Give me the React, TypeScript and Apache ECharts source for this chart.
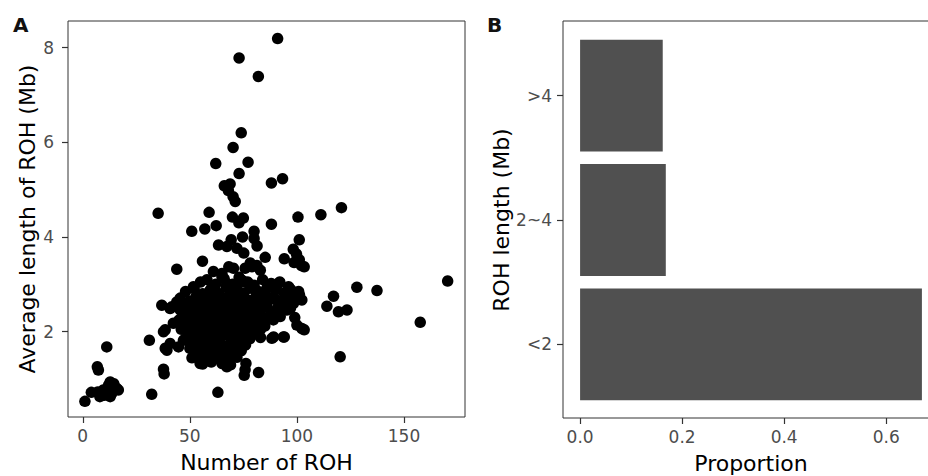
import React, { useEffect, useRef } from 'react';
import * as echarts from 'echarts';

// Panel A: number of ROH vs average ROH length (Mb)
const rohLowCluster: [number, number][] = [
  [1, 0.53], [4, 0.72], [7, 0.73], [8, 0.63], [10, 0.66], [9.6, 0.77], [12, 0.87], [12.8, 0.94],
  [14.3, 0.8], [15.9, 0.8], [12.8, 0.63], [14.5, 0.9], [16.6, 0.77], [11, 0.72], [13.5, 0.7],
  [6.8, 1.26], [7.3, 1.19], [11.2, 1.68],
];
const rohMidLeft: [number, number][] = [
  [31.1, 1.82], [32.2, 0.68], [37.7, 1.21], [38, 1.11], [37.7, 2.0], [38.5, 1.65], [39.3, 1.61],
  [36.9, 2.56], [40.8, 2.49], [41.6, 2.53], [43.9, 2.63], [45.5, 2.71], [35.2, 4.5], [43.9, 3.32],
  [55.9, 3.49], [51.7, 2.95], [38.5, 2.04], [42.3, 2.18], [40.8, 1.75], [44.7, 1.68], [47, 1.82],
  [45.5, 2.46],
];
const rohUpper: [number, number][] = [
  [91, 8.19], [73, 7.78], [82, 7.39], [74, 6.2], [70.2, 5.89], [77.2, 5.58], [62.1, 5.55], [73, 5.34],
  [93.3, 5.23], [88.1, 5.14], [66.1, 5.08], [68.8, 5.12], [68, 4.98], [70.2, 4.85], [71.2, 4.75],
  [59, 4.52], [111.2, 4.47], [120.8, 4.62], [100.5, 4.42], [69.9, 4.42], [75, 4.4], [72.9, 4.3],
  [62.3, 4.24], [57, 4.17], [50.9, 4.12], [88.1, 4.27], [80, 4.12], [74.6, 4.0], [80, 3.97],
  [101.1, 3.94], [69.3, 3.94], [67.3, 3.8], [72, 3.76], [63.4, 3.83], [81.4, 3.81], [75.2, 3.66],
  [98.3, 3.74], [99.8, 3.64], [101.1, 3.52], [102.1, 3.4], [103.4, 3.37], [98.7, 3.46], [94.1, 3.54],
  [85.2, 3.57], [61, 3.27], [68.2, 3.37], [70.4, 3.34], [75.8, 3.34], [79, 3.37], [81.3, 3.4],
  [82.9, 3.3], [65, 3.16], [75, 3.06], [65, 3.23], [78.2, 3.45], [74.3, 3.09], [67.3, 3.02],
  [59.5, 2.88], [86, 2.92], [91.4, 3.02], [96.1, 2.95], [96.9, 2.78], [100.8, 2.85],
];
const rohRight: [number, number][] = [
  [128, 2.94], [137.4, 2.87], [170.4, 3.07], [117.1, 2.75], [114, 2.54], [119.4, 2.42], [123.4, 2.46],
  [157.6, 2.2], [120.2, 1.47], [101.2, 2.78], [102.3, 2.67], [98.4, 2.6], [100, 2.14], [102.3, 2.07],
  [103.4, 2.04], [94.1, 1.89], [88.3, 1.86], [93.7, 1.89], [89.1, 1.89], [92.2, 2.32], [95.3, 2.46],
  [99, 2.3], [97, 2.5],
];
const rohBottom: [number, number][] = [
  [76.2, 1.33], [75.4, 1.08], [82.1, 1.14], [63.1, 0.72], [54.8, 1.33], [67.3, 1.26], [52.5, 1.47],
  [75.8, 1.2],
];
const rohDense: [number, number][] = [
  [55, 3.05], [58, 3.1], [62, 3.0], [66, 3.12], [70, 3.0], [73, 3.15], [77, 3.05], [80, 2.98], [84, 3.1], [88, 3.02], [92, 3.05],
  [48, 2.85], [52, 2.92], [56, 2.8], [60, 2.9], [63, 2.82], [67, 2.95], [69, 2.85], [72, 2.9], [75, 2.82], [78, 2.92], [82, 2.85], [85, 2.8], [90, 2.88], [94, 2.82], [97, 2.9],
  [50, 2.65], [53, 2.75], [55, 2.62], [58, 2.72], [61, 2.66], [64, 2.78], [66, 2.62], [68, 2.72], [70, 2.65], [72, 2.75], [74, 2.62], [76, 2.7], [79, 2.66], [81, 2.76], [84, 2.64], [87, 2.72], [90, 2.68], [93, 2.62], [96, 2.7],
  [47, 2.55], [50, 2.42], [52, 2.52], [54, 2.58], [57, 2.45], [59, 2.55], [61, 2.42], [63, 2.5], [65, 2.58], [67, 2.45], [69, 2.52], [71, 2.42], [73, 2.55], [75, 2.48], [77, 2.58], [79, 2.44], [81, 2.52], [83, 2.45], [86, 2.55], [88, 2.42], [91, 2.5], [94, 2.58],
  [45, 2.25], [48, 2.35], [51, 2.22], [53, 2.32], [55, 2.38], [57, 2.25], [59, 2.34], [61, 2.22], [62, 2.38], [64, 2.28], [66, 2.35], [68, 2.22], [69, 2.32], [71, 2.38], [72, 2.26], [74, 2.34], [76, 2.22], [78, 2.36], [80, 2.28], [82, 2.35], [84, 2.22], [87, 2.32], [89, 2.25],
  [46, 2.05], [49, 2.15], [52, 2.02], [54, 2.12], [56, 2.18], [58, 2.05], [60, 2.14], [62, 2.02], [63, 2.18], [65, 2.08], [67, 2.15], [68, 2.02], [70, 2.12], [71, 2.18], [73, 2.05], [75, 2.15], [77, 2.02], [79, 2.12], [81, 2.18], [83, 2.05], [85, 2.12],
  [48, 1.85], [50, 1.95], [53, 1.82], [55, 1.92], [57, 1.98], [59, 1.85], [61, 1.95], [63, 1.82], [65, 1.92], [67, 1.98], [69, 1.86], [71, 1.95], [73, 1.84], [75, 1.92], [78, 1.85], [80, 1.95], [83, 1.88],
  [50, 1.65], [52, 1.75], [55, 1.62], [57, 1.72], [59, 1.66], [61, 1.78], [63, 1.64], [65, 1.72], [67, 1.62], [69, 1.75], [72, 1.68], [74, 1.6], [76, 1.72],
  [51, 1.45], [54, 1.55], [56, 1.42], [58, 1.52], [60, 1.45], [62, 1.56], [64, 1.42], [66, 1.5], [68, 1.44], [70, 1.55], [72, 1.46],
  [56, 1.32], [60, 1.36], [65, 1.33], [69, 1.3],
];
const countTicks = [0, 50, 100, 150];
const lengthTicks = [2, 4, 6, 8];

// Panel B: proportion by ROH length class
const lengthCategories = ['<2', '2~4', '>4'];
const proportions = [0.67, 0.168, 0.162];
const proportionTicks = [0, 0.2, 0.4, 0.6];

export default function App() {
  const ref = useRef<HTMLDivElement>(null);
  useEffect(() => {
    const chart = echarts.init(ref.current!, null, { renderer: 'svg' });
    const font = 'DejaVu Sans';
    const tickLabel = { color: '#4d4d4d', fontSize: 17, fontFamily: font };
    const titleStyle = { color: '#000', fontSize: 22, fontFamily: font };
    const noLine = { show: false, onZero: false };
    const tick = (vals: number[]) => ({ show: true, inside: false, length: 6, lineStyle: { color: '#333', width: 1.2 }, customValues: vals });
    const allPoints = [...rohLowCluster, ...rohMidLeft, ...rohUpper, ...rohRight, ...rohBottom, ...rohDense];
    chart.setOption({
      animation: false,
      grid: [
        { left: 68, top: 21, width: 397, height: 396, show: true, borderColor: '#333', borderWidth: 1, outerBoundsMode: 'none', containLabel: false },
        { left: 563, top: 33.5, width: 376, height: 373, outerBoundsMode: 'none', containLabel: false },
      ],
      xAxis: [
        {
          gridIndex: 0, type: 'value', min: -6.9, max: 178.5,
          splitLine: { show: false }, axisLine: noLine,
          axisTick: tick(countTicks),
          axisLabel: { ...tickLabel, margin: 10, customValues: countTicks },
          name: 'Number of ROH', nameLocation: 'middle', nameGap: 34, nameMoveOverlap: false, nameTextStyle: titleStyle,
        },
        {
          gridIndex: 1, type: 'value', min: -0.0335, max: 0.7035, offset: 11.5,
          splitLine: { show: false }, axisLine: noLine,
          axisTick: tick(proportionTicks),
          axisLabel: { ...tickLabel, margin: 10, customValues: proportionTicks, formatter: (v: number) => v.toFixed(1) },
          name: 'Proportion', nameLocation: 'middle', nameGap: 34, nameMoveOverlap: false, nameTextStyle: titleStyle,
        },
      ],
      yAxis: [
        {
          gridIndex: 0, type: 'value', min: 0.2, max: 8.56,
          splitLine: { show: false }, axisLine: noLine,
          axisTick: tick(lengthTicks),
          axisLabel: { ...tickLabel, margin: 14, customValues: lengthTicks },
          name: 'Average length of ROH (Mb)', nameLocation: 'middle', nameGap: 30, nameMoveOverlap: false, nameTextStyle: titleStyle,
        },
        {
          gridIndex: 1, type: 'category', data: lengthCategories,
          splitLine: { show: false }, axisLine: noLine,
          axisTick: { show: true, inside: false, length: 6, alignWithLabel: true, lineStyle: { color: '#333', width: 1.2 } },
          axisLabel: { ...tickLabel, margin: 11 },
          name: 'ROH length (Mb)', nameLocation: 'middle', nameGap: 51, nameMoveOverlap: false, nameTextStyle: titleStyle,
        },
      ],
      graphic: [
        { type: 'rect', shape: { x: 563, y: 21, width: 380, height: 397 }, style: { fill: 'none', stroke: '#333', lineWidth: 1 }, z: 10 },
        { type: 'text', x: 13, y: 15, style: { text: 'A', fontSize: 20, fontWeight: 'bold', fontFamily: font, fill: '#111' } },
        { type: 'text', x: 487, y: 15, style: { text: 'B', fontSize: 20, fontWeight: 'bold', fontFamily: font, fill: '#111' } },
      ],
      series: [
        {
          type: 'scatter', xAxisIndex: 0, yAxisIndex: 0, data: allPoints,
          symbolSize: 11.5, itemStyle: { color: '#000', opacity: 1 },
        },
        {
          type: 'bar', xAxisIndex: 1, yAxisIndex: 1, data: proportions,
          barCategoryGap: '10%', itemStyle: { color: '#505050' },
        },
      ],
    });
    return () => chart.dispose();
  }, []);
  return <div ref={ref} style={{ position: 'fixed', left: 0, top: 0, width: 928, height: 476, background: '#fff' }} />;
}
